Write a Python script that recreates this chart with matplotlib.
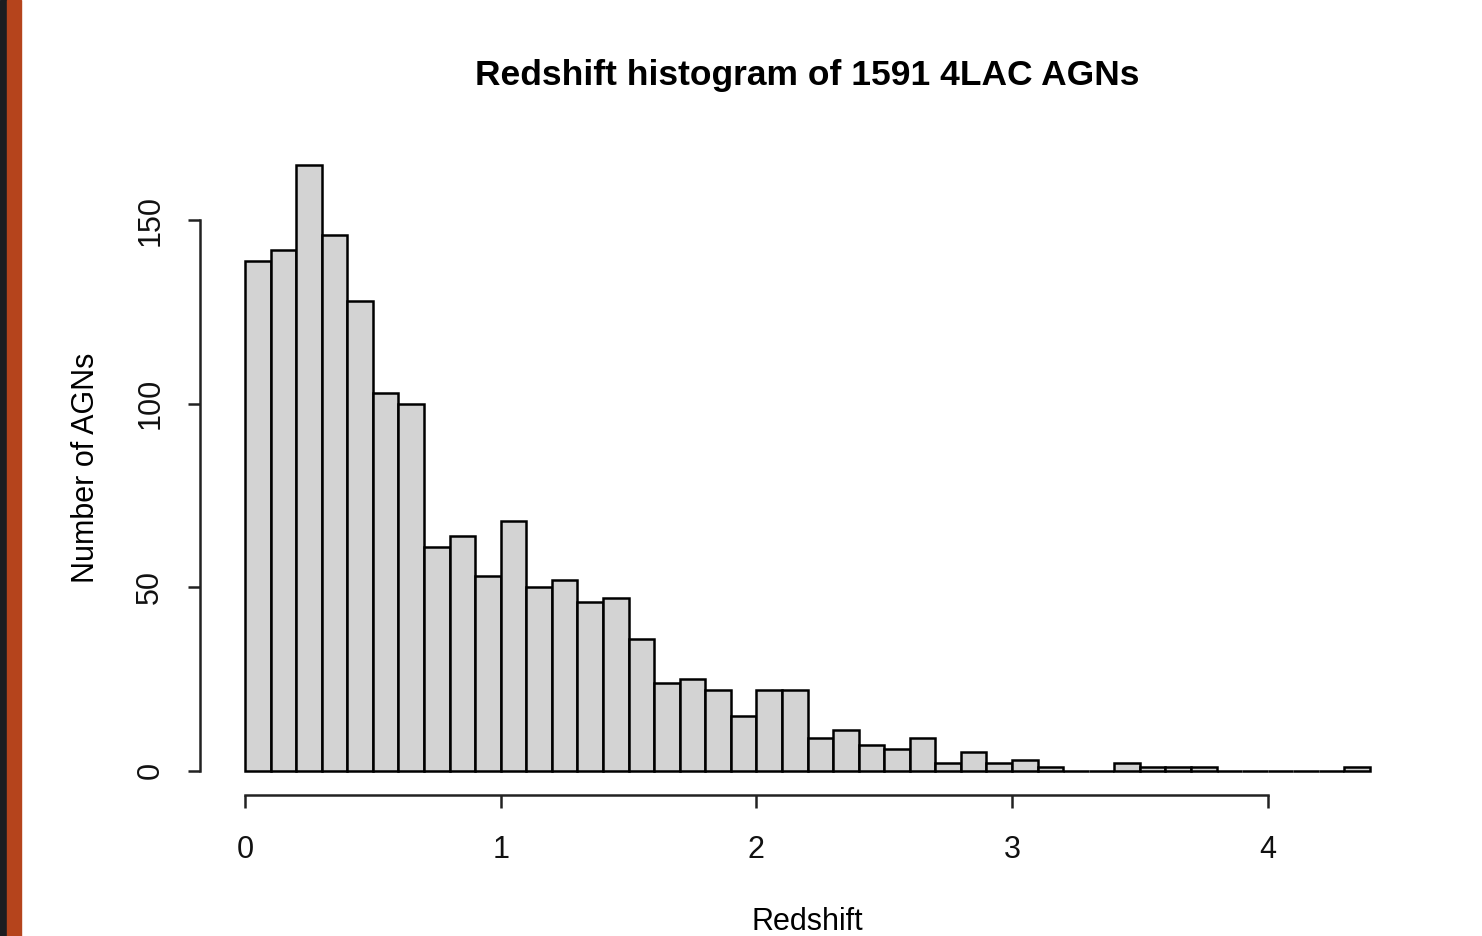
import numpy as np
import matplotlib.pyplot as plt
from matplotlib.patches import Rectangle

# Histogram counts, bins of width 0.1 from 0 to 4.4 (total 1591)
bin_edges = np.round(np.arange(0, 4.41, 0.1), 2)
counts = [139, 142, 165, 146, 128, 103, 100, 61, 64, 53,
          68, 50, 52, 46, 47, 36, 24, 25, 22, 15,
          22, 22, 9, 11, 7, 6, 9, 2, 5, 2,
          3, 1, 0, 0, 2, 1, 1, 1, 0, 0,
          0, 0, 0, 1]
x_ticks = [0, 1, 2, 3, 4]
y_ticks = [0, 50, 100, 150]

plt.rcParams['font.family'] = ['Liberation Sans', 'DejaVu Sans']

fig = plt.figure(figsize=(14.82, 9.36), dpi=100)
fig.patch.set_facecolor('white')

# Screenshot edge strips on the left
fig.patches.append(Rectangle((0, 0), 7 / 1482, 1, transform=fig.transFigure,
                             color='#1c1d20', zorder=0))
fig.patches.append(Rectangle((7 / 1482, 0), 14 / 1482, 1, transform=fig.transFigure,
                             color='#b5441c', zorder=0))

ax = fig.add_axes([200 / 1482, 1 - 795 / 936, 1215 / 1482, 654 / 936])

widths = np.diff(bin_edges)
ax.bar(bin_edges[:-1], counts, width=widths, align='edge',
       color='#d3d3d3', edgecolor='black', linewidth=1.8)

# R-style detached axes
ax.set_xlim(-0.176, 4.576)
ax.set_ylim(-6.6, 171.6)
ax.spines['top'].set_visible(False)
ax.spines['right'].set_visible(False)
ax.spines['bottom'].set_bounds(0, 4)
ax.spines['left'].set_bounds(0, 150)
for s in ['bottom', 'left']:
    ax.spines[s].set_linewidth(1.8)
    ax.spines[s].set_color('#222222')

ax.set_xticks(x_ticks)
ax.set_yticks(y_ticks)
ax.set_xticklabels([str(t) for t in x_ticks])
ax.set_yticklabels([str(t) for t in y_ticks], rotation=90, va='center')
ax.tick_params(axis='both', length=9, width=1.8, color='#222222',
               labelsize=22, labelcolor='#111111')
ax.tick_params(axis='x', pad=20)
ax.tick_params(axis='y', pad=16)

ax.set_xlabel('Redshift', fontsize=22, labelpad=30)
ax.set_ylabel('Number of AGNs', fontsize=22, labelpad=25)
ax.set_title('Redshift histogram of 1591 4LAC AGNs', fontsize=25.5,
             fontweight='bold', pad=40)

fig.savefig('out.png', dpi=100)
